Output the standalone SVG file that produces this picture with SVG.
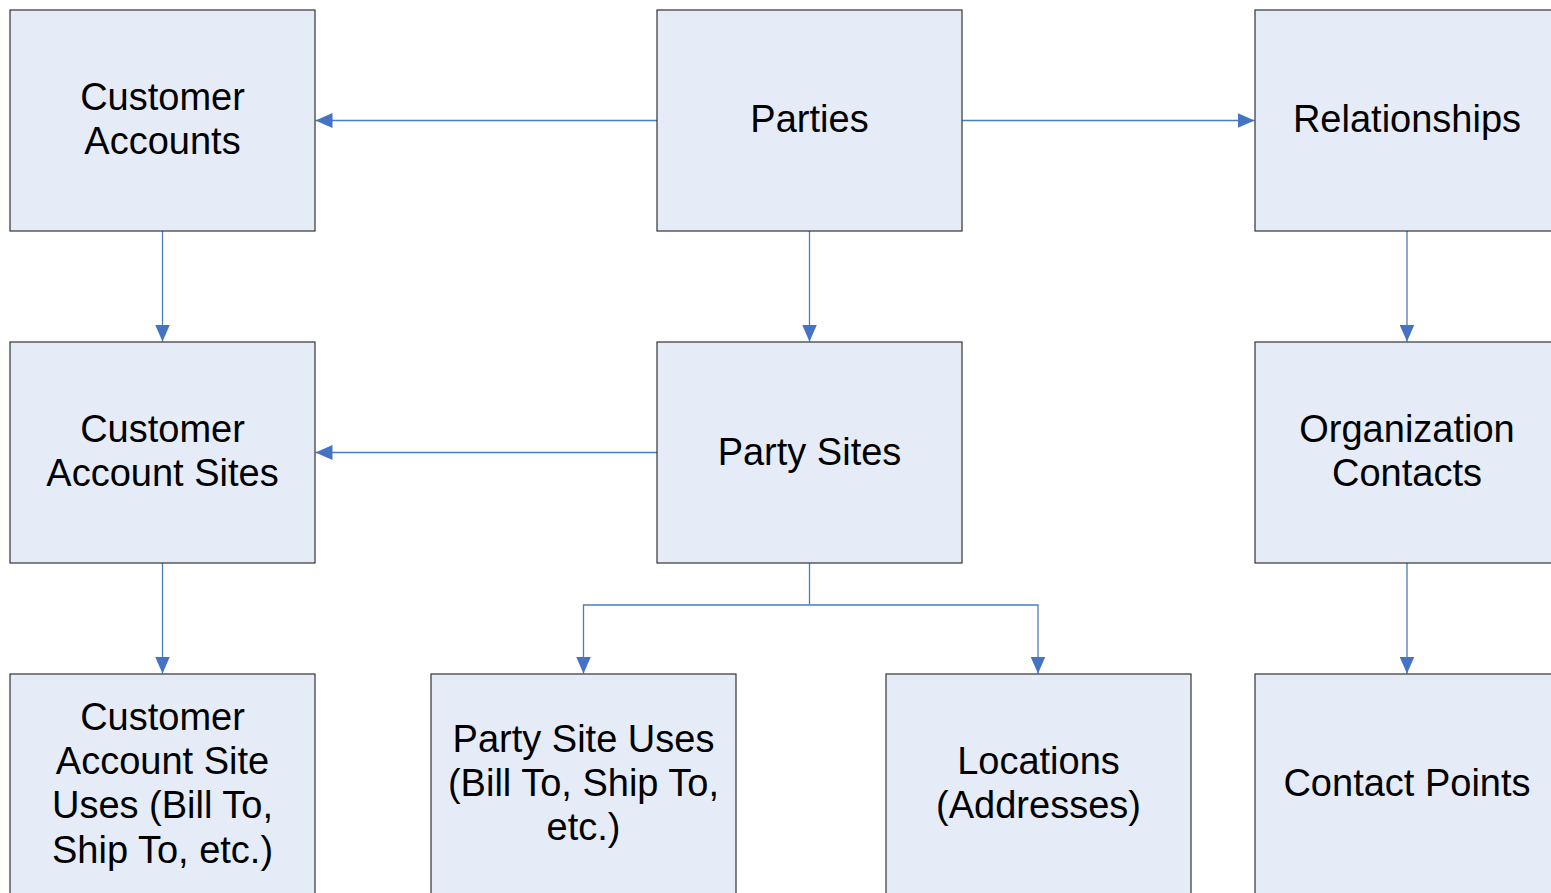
<svg xmlns="http://www.w3.org/2000/svg" width="1551" height="893" viewBox="0 0 1551 893">
<style>
.box{fill:#e6ecf7;stroke:#333;stroke-width:1.2}
.lbl{font-family:"Liberation Sans",Arial,sans-serif;font-size:38px;fill:#000;text-anchor:middle}
.con{fill:none;stroke:#4a7ebb;stroke-width:1.3;marker-end:url(#arr)}
.seg{fill:none;stroke:#4a7ebb;stroke-width:1.3}
</style>
<defs>
<marker id="arr" markerUnits="userSpaceOnUse" markerWidth="17" markerHeight="15" refX="17" refY="7.5" orient="auto">
<path d="M0,0 L17,7.5 L0,15 z" fill="#4472c4"/>
</marker>
</defs>
<rect width="1551" height="893" fill="#fff"/>
<g id="connectors">
<path class="con" d="M657,120.5 H315.5"/>
<path class="con" d="M962,120.5 H1254.5"/>
<path class="con" d="M162.5,231 V341.5"/>
<path class="con" d="M809.5,231 V341.5"/>
<path class="con" d="M1407,231 V341.5"/>
<path class="con" d="M657,452.5 H315.5"/>
<path class="con" d="M162.5,563 V673.5"/>
<path class="seg" d="M809.5,563 V605"/>
<path class="con" d="M809.5,605 H583.5 V673.5"/>
<path class="con" d="M809.5,605 H1038 V673.5"/>
<path class="con" d="M1407,563 V673.5"/>
</g>
<g id="customer-accounts"><rect class="box" x="10" y="10" width="305" height="221"/><text class="lbl"><tspan x="162.5" y="109.5">Customer</tspan><tspan x="162.5" y="153.5">Accounts</tspan></text></g>
<g id="parties"><rect class="box" x="657" y="10" width="305" height="221"/><text class="lbl" x="809.5" y="131.5">Parties</text></g>
<g id="relationships"><rect class="box" x="1255" y="10" width="305" height="221"/><text class="lbl" x="1407" y="131.5">Relationships</text></g>
<g id="customer-account-sites"><rect class="box" x="10" y="342" width="305" height="221"/><text class="lbl"><tspan x="162.5" y="441.5">Customer</tspan><tspan x="162.5" y="485.5">Account Sites</tspan></text></g>
<g id="party-sites"><rect class="box" x="657" y="342" width="305" height="221"/><text class="lbl" x="809.5" y="464.5">Party Sites</text></g>
<g id="organization-contacts"><rect class="box" x="1255" y="342" width="305" height="221"/><text class="lbl"><tspan x="1407" y="441.5">Organization</tspan><tspan x="1407" y="485.5">Contacts</tspan></text></g>
<g id="customer-account-site-uses"><rect class="box" x="10" y="674" width="305" height="221"/><text class="lbl"><tspan x="162.5" y="729.5">Customer</tspan><tspan x="162.5" y="773.5">Account Site</tspan><tspan x="162.5" y="817.5">Uses (Bill To,</tspan><tspan x="162.5" y="862.5">Ship To, etc.)</tspan></text></g>
<g id="party-site-uses"><rect class="box" x="431" y="674" width="305" height="221"/><text class="lbl"><tspan x="583.5" y="751.5">Party Site Uses</tspan><tspan x="583.5" y="795.5">(Bill To, Ship To,</tspan><tspan x="583.5" y="839.5">etc.)</tspan></text></g>
<g id="locations"><rect class="box" x="886" y="674" width="305" height="221"/><text class="lbl"><tspan x="1038.5" y="773.5">Locations</tspan><tspan x="1038.5" y="817.5">(Addresses)</tspan></text></g>
<g id="contact-points"><rect class="box" x="1255" y="674" width="305" height="221"/><text class="lbl" x="1407" y="795.5">Contact Points</text></g>
</svg>
